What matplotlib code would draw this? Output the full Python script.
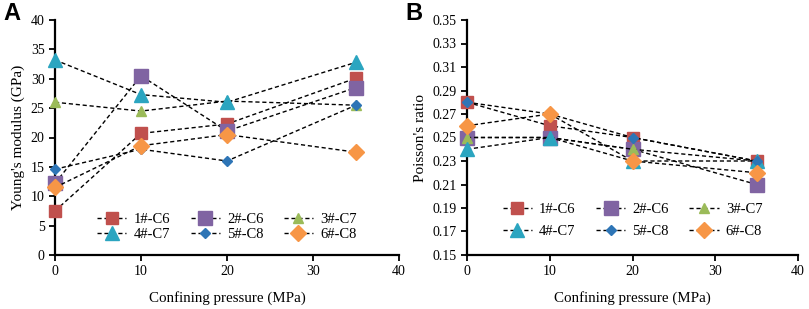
import matplotlib.pyplot as plt
import numpy as np

pressure = [0, 10, 20, 35]
labels = ["1#-C6", "2#-C6", "3#-C7", "4#-C7", "5#-C8", "6#-C8"]

# Young's modulus (GPa)
E_1C6 = [7.5, 20.7, 22.3, 30.1]
E_2C6 = [12.2, 30.5, 21.1, 28.5]
E_3C7 = [26.0, 24.5, 26.2, 25.5]
E_4C7 = [33.2, 27.3, 26.0, 32.8]
E_5C8 = [14.6, 18.0, 16.0, 25.5]
E_6C8 = [11.5, 18.6, 20.5, 17.5]

# Poisson's ratio
v_1C6 = [0.28, 0.26, 0.25, 0.23]
v_2C6 = [0.25, 0.25, 0.24, 0.21]
v_3C7 = [0.25, 0.25, 0.24, 0.23]
v_4C7 = [0.24, 0.25, 0.23, 0.23]
v_5C8 = [0.28, 0.27, 0.25, 0.23]
v_6C8 = [0.26, 0.27, 0.23, 0.22]

styles = [
    ("s", "#C0504D", 8),
    ("s", "#8064A2", 10),
    ("^", "#9BBB59", 7),
    ("^", "#2BA5C0", 10),
    ("D", "#2E75B6", 5),
    ("D", "#F79646", 8),
]

plt.rcParams["font.family"] = "Liberation Serif"
plt.rcParams["font.size"] = 10.5

fig = plt.figure(figsize=(8.09, 3.09), dpi=100)
axA = fig.add_axes([55 / 809, 1 - 255 / 309, 344 / 809, 235 / 309])
axB = fig.add_axes([467 / 809, 1 - 255 / 309, 331 / 809, 235 / 309])


def draw(ax, series, ylim, yticks, yfmt, ylabel, leg_y, leg_space):
    handles = []
    for ys, lab, (m, c, s) in zip(series, labels, styles):
        h, = ax.plot(pressure, ys, linestyle=(0, (3, 2)), color="black", lw=1,
                     marker=m, markersize=s, markerfacecolor=c, markeredgecolor=c,
                     label=lab, clip_on=False, zorder=3)
        handles.append(h)
    ax.set_xlim(0, 40)
    ax.set_ylim(*ylim)
    ax.set_xticks([0, 10, 20, 30, 40])
    ax.set_yticks(yticks)
    ax.set_yticklabels([yfmt.format(t) for t in yticks])
    ax.set_xlabel("Confining pressure (MPa)", fontsize=10.8, labelpad=9)
    ax.set_ylabel(ylabel, fontsize=11)
    for sp in ["top", "right"]:
        ax.spines[sp].set_visible(False)
    ax.spines["left"].set_linewidth(1.6)
    ax.spines["bottom"].set_linewidth(1.6)
    ax.tick_params(direction="out", width=1.3, length=4, labelsize=10)
    # row-wise ordering: matplotlib fills legend columns first
    order = [0, 3, 1, 4, 2, 5]
    ax.legend([handles[i] for i in order], [labels[i] for i in order],
              ncol=3, frameon=False, loc="center", bbox_to_anchor=(0.5, leg_y),
              handlelength=2.0, handletextpad=0.5, columnspacing=1.4,
              labelspacing=leg_space, fontsize=10.5, borderpad=0)


draw(axA, [E_1C6, E_2C6, E_3C7, E_4C7, E_5C8, E_6C8], (0, 40),
     np.arange(0, 41, 5), "{:.0f}", "Young's modulus (GPa)", 0.12, 0.15)
draw(axB, [v_1C6, v_2C6, v_3C7, v_4C7, v_5C8, v_6C8], (0.15, 0.35),
     np.round(np.arange(0.15, 0.351, 0.02), 2), "{:.2f}", "Poisson's ratio", 0.147, 0.55)

fig.text(3 / 809, 1 - 20 / 309, "A", family="Liberation Sans", weight="bold", fontsize=17)
fig.text(405 / 809, 1 - 20 / 309, "B", family="Liberation Sans", weight="bold", fontsize=17)

fig.savefig("out.png", dpi=100)
